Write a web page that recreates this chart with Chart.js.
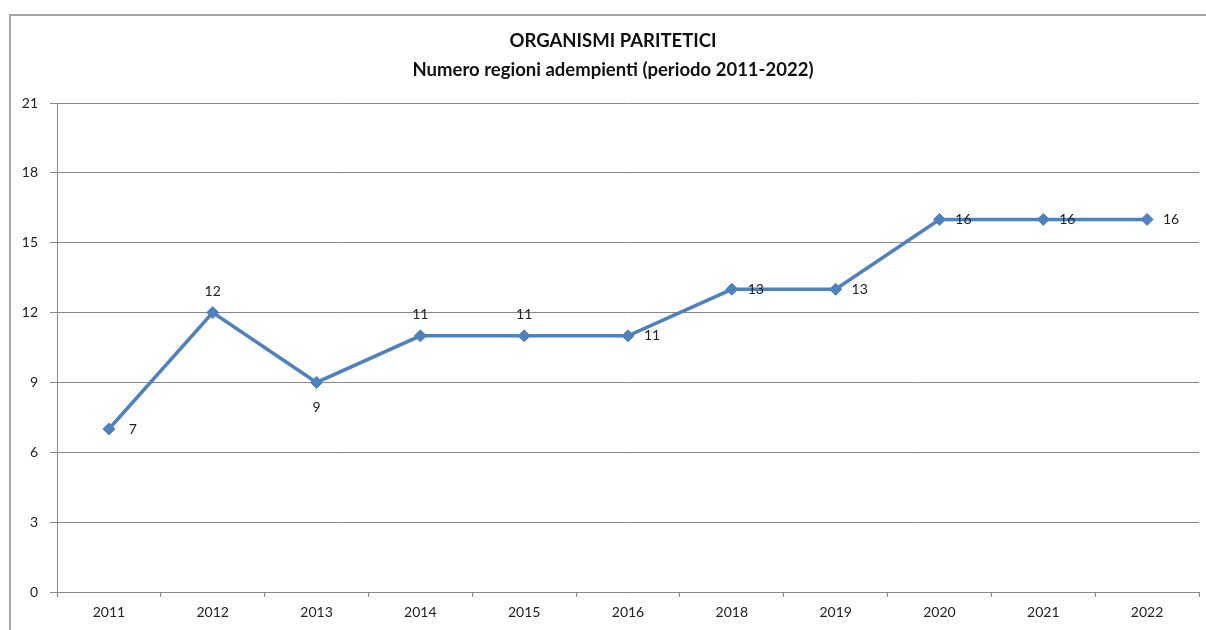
<!DOCTYPE html>
<html>
<head>
<meta charset="utf-8">
<script src="https://cdn.jsdelivr.net/npm/chart.js@4"></script>
<style>
  html, body { margin: 0; padding: 0; background: #fff; }
  #wrap { width: 1206px; height: 630px; position: relative; }
</style>
</head>
<body>
<div id="wrap"><canvas id="chart" width="1206" height="630"></canvas></div>
<script>
// data
const years = ['2011', '2012', '2013', '2014', '2015', '2016', '2018', '2019', '2020', '2021', '2022'];
const regioni = [7, 12, 9, 11, 11, 11, 13, 13, 16, 16, 16];
const titleLines = ['ORGANISMI PARITETICI', 'Numero regioni adempienti (periodo 2011-2022)'];
// where each value label sits relative to its point
const labelSide = ['right', 'top', 'bottom', 'top', 'top', 'right', 'right', 'right', 'right', 'right', 'right'];

const FONT = 'Lato, "Open Sans", sans-serif';
const BLUE = '#4f81bd';

// frame + two-line title
const framePlugin = {
    id: 'frame',
    beforeDraw(chart) {
        const ctx = chart.ctx;
        ctx.save();
        ctx.fillStyle = '#fff';
        ctx.fillRect(0, 0, chart.width, chart.height);
        ctx.strokeStyle = '#a6a6a6';
        ctx.lineWidth = 2;
        ctx.beginPath();
        ctx.moveTo(10, 640);
        ctx.lineTo(10, 15);
        ctx.lineTo(1220, 15);
        ctx.stroke();
        ctx.fillStyle = '#111';
        ctx.textAlign = 'center';
        ctx.textBaseline = 'middle';
        ctx.font = 'bold 18.5px ' + FONT;
        ctx.fillText(titleLines[0], 613, 41);
        ctx.fillText(titleLines[1], 613, 70);
        ctx.restore();
    }
};

// value labels next to the markers
const valueLabels = {
    id: 'valueLabels',
    afterDatasetsDraw(chart) {
        const ctx = chart.ctx;
        const meta = chart.getDatasetMeta(0);
        ctx.save();
        ctx.font = '14px ' + FONT;
        ctx.fillStyle = '#222';
        ctx.textAlign = 'center';
        ctx.textBaseline = 'middle';
        meta.data.forEach((pt, i) => {
            let x = pt.x, y = pt.y;
            const side = labelSide[i];
            if (side === 'right') x += 24;
            else if (side === 'top') y -= 21;
            else if (side === 'bottom') y += 25;
            ctx.fillText(String(regioni[i]), x, y);
        });
        ctx.restore();
    }
};

new Chart(document.getElementById('chart'), {
    type: 'line',
    data: {
        labels: years,
        datasets: [{
            data: regioni,
            borderColor: BLUE,
            backgroundColor: BLUE,
            borderWidth: 3.5,
            pointStyle: 'rectRot',
            pointRadius: 6,
            pointHoverRadius: 6,
            pointBorderWidth: 1,
            tension: 0
        }]
    },
    options: {
        responsive: false,
        animation: false,
        events: [],
        layout: { padding: { top: 103, right: 7, left: 0, bottom: 0 } },
        plugins: {
            legend: { display: false },
            tooltip: { enabled: false },
            title: { display: false }
        },
        scales: {
            x: {
                offset: true,
                grid: {
                    offset: true,
                    drawOnChartArea: false,
                    drawTicks: true,
                    tickLength: 5,
                    color: '#888'
                },
                border: { display: true, color: '#888', width: 1 },
                ticks: {
                    color: '#222',
                    font: { family: FONT, size: 14 },
                    padding: 7,
                    maxRotation: 0
                },
                afterFit(scale) { scale.height = 38; }
            },
            y: {
                min: 0,
                max: 21,
                grid: {
                    color: '#888',
                    lineWidth: 1,
                    tickLength: 7
                },
                border: { display: true, color: '#888', width: 1 },
                ticks: {
                    stepSize: 3,
                    color: '#222',
                    font: { family: FONT, size: 14 },
                    padding: 12
                },
                afterFit(scale) { scale.width = 57; }
            }
        }
    },
    plugins: [framePlugin, valueLabels]
});
</script>
</body>
</html>
